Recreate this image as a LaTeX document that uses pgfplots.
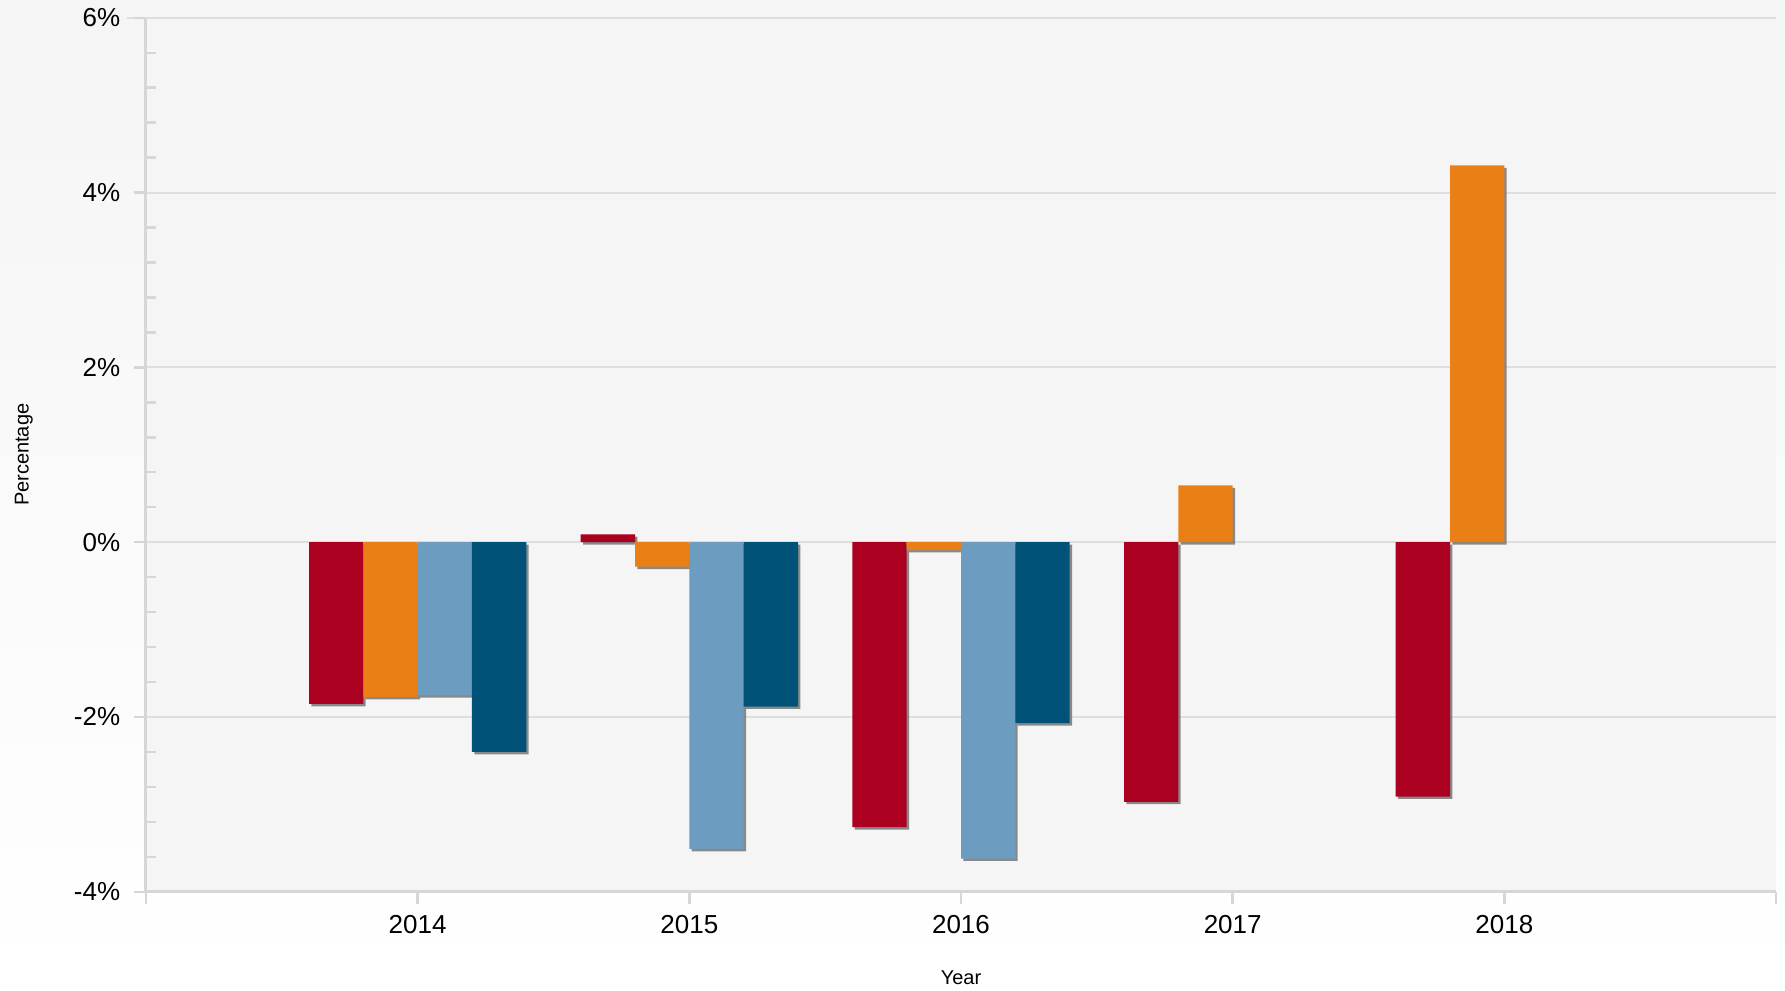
\documentclass[border=0pt]{standalone}
\usepackage{fontspec}
\setmainfont{Liberation Sans}
\usepackage{pgfplots}
\pgfplotsset{compat=1.18}
\usetikzlibrary{backgrounds}
\definecolor{cRed}{HTML}{AB001F}
\definecolor{cOrange}{HTML}{EA7F15}
\definecolor{cLight}{HTML}{6C9DC0}
\definecolor{cDark}{HTML}{005279}
\definecolor{cAxis}{HTML}{D6D6D6}
\definecolor{cGrid}{HTML}{DEDEDE}
\definecolor{cPlot}{HTML}{F5F5F5}
\begin{document}
\begin{tikzpicture}
\begin{axis}[
  at={(0,0)}, anchor=south west,
  scale only axis, width=815bp, height=437bp,
  xmin=2013, xmax=2019, ymin=-4, ymax=6,
  ybar=0pt, bar width=0.2,
  axis x line*=bottom, axis y line*=left,
  axis line style={-, draw=cAxis, line width=1.5bp},
  axis background/.style={fill=cPlot},
  xtick={2014,2015,2016,2017,2018},
  xticklabels={2014,2015,2016,2017,2018},
  extra x ticks={2013,2019}, extra x tick labels={},
  ytick={-4,-2,0,2,4,6},
  yticklabels={-4\%,-2\%,0\%,2\%,4\%,6\%},
  minor y tick num=4,
  ymajorgrids,
  major grid style={draw=cGrid, line width=1bp, shorten <=-9.5bp},
  tick align=outside,
  major tick length=6bp, minor tick length=-5bp,
  tick style={draw=cAxis, line width=1.2bp},
  ticklabel style={font=\fontsize{13bp}{15bp}\selectfont, text=black},
  yticklabel style={xshift=-3.4bp},
  xticklabel style={yshift=-2.3bp},
  xlabel={Year}, ylabel={Percentage},
  label style={font=\fontsize{10bp}{12bp}\selectfont},
  xlabel style={at={(axis description cs:0.5,-0.0988)}, anchor=center},
  ylabel style={at={(axis description cs:-0.075,0.5)}, anchor=center, rotate=0},
  every axis plot/.append style={draw=none, preaction={fill=black!60, fill opacity=0.75, transform canvas={xshift=1.2bp, yshift=-1.2bp}}},
]
\addplot[fill=cRed] coordinates {(2014,-1.85) (2015,0.09) (2016,-3.26) (2017,-2.97) (2018,-2.91)};
\addplot[fill=cOrange] coordinates {(2014,-1.77) (2015,-0.28) (2016,-0.09) (2017,0.65) (2018,4.31)};
\addplot[fill=cLight] coordinates {(2014,-1.75) (2015,-3.51) (2016,-3.62)};
\addplot[fill=cDark] coordinates {(2014,-2.40) (2015,-1.88) (2016,-2.07)};
\end{axis}
\pgfresetboundingbox
\useasboundingbox (-73bp,-49.6bp) rectangle (819.5bp,445.9bp);
\begin{pgfonlayer}{background}
\shade[top color=black!4, bottom color=white] (-73bp,-49.6bp) rectangle (819.5bp,445.9bp);
\end{pgfonlayer}
\end{tikzpicture}
\end{document}
